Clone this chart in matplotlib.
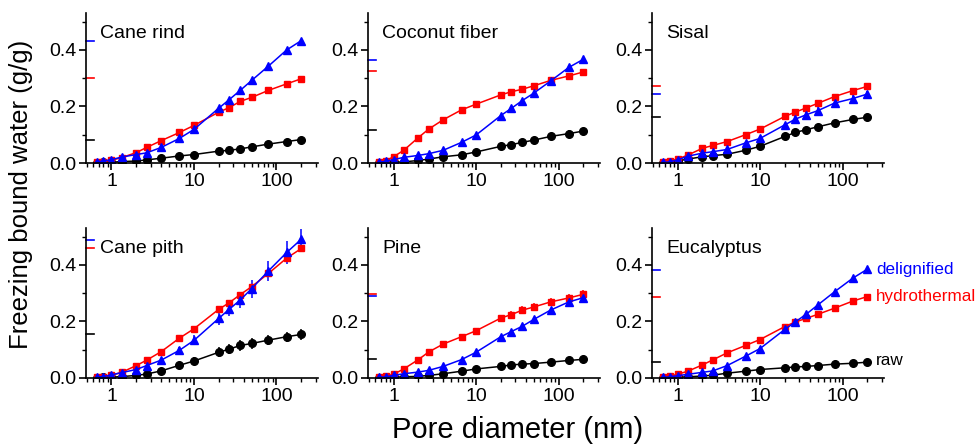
import matplotlib
matplotlib.use("Agg")
import matplotlib.pyplot as plt
from matplotlib.ticker import LogLocator, NullFormatter, MultipleLocator

plt.rcParams['font.family'] = ['Liberation Sans', 'DejaVu Sans']

# pore diameters (nm)
x = [0.66, 0.8, 1.0, 1.33, 2.0, 2.67, 4.0, 6.67, 10, 20, 26.7, 36.4, 50, 80, 133, 200]

titles = ["Cane rind", "Coconut fiber", "Sisal", "Cane pith", "Pine", "Eucalyptus"]

raw = [
    [0.001, 0.002, 0.003, 0.005, 0.007, 0.011, 0.017, 0.025, 0.030, 0.042, 0.045, 0.050, 0.057, 0.067, 0.076, 0.083],
    [0.001, 0.002, 0.003, 0.004, 0.009, 0.014, 0.022, 0.029, 0.039, 0.059, 0.065, 0.073, 0.081, 0.094, 0.104, 0.113],
    [0.001, 0.003, 0.007, 0.014, 0.022, 0.026, 0.031, 0.045, 0.059, 0.094, 0.108, 0.118, 0.128, 0.142, 0.154, 0.162],
    [0.001, 0.002, 0.003, 0.005, 0.009, 0.014, 0.025, 0.045, 0.060, 0.091, 0.102, 0.115, 0.122, 0.134, 0.146, 0.154],
    [0.001, 0.002, 0.003, 0.004, 0.006, 0.009, 0.015, 0.024, 0.032, 0.041, 0.046, 0.049, 0.051, 0.056, 0.062, 0.066],
    [0.001, 0.002, 0.003, 0.004, 0.007, 0.010, 0.017, 0.024, 0.030, 0.036, 0.039, 0.041, 0.044, 0.049, 0.052, 0.056],
]
hydrothermal = [
    [0.002, 0.005, 0.010, 0.019, 0.037, 0.055, 0.079, 0.108, 0.133, 0.180, 0.196, 0.218, 0.232, 0.257, 0.280, 0.298],
    [0.004, 0.008, 0.022, 0.045, 0.090, 0.120, 0.153, 0.188, 0.208, 0.241, 0.252, 0.261, 0.273, 0.292, 0.308, 0.322],
    [0.003, 0.006, 0.014, 0.028, 0.052, 0.062, 0.076, 0.100, 0.120, 0.165, 0.180, 0.195, 0.211, 0.235, 0.256, 0.271],
    [0.003, 0.005, 0.010, 0.020, 0.044, 0.063, 0.093, 0.141, 0.174, 0.243, 0.266, 0.295, 0.323, 0.370, 0.424, 0.458],
    [0.003, 0.006, 0.013, 0.032, 0.065, 0.092, 0.120, 0.146, 0.167, 0.212, 0.224, 0.240, 0.251, 0.269, 0.283, 0.296],
    [0.003, 0.006, 0.013, 0.024, 0.046, 0.064, 0.089, 0.115, 0.136, 0.182, 0.198, 0.211, 0.225, 0.247, 0.272, 0.288],
]
delignified = [
    [0.004, 0.007, 0.012, 0.021, 0.030, 0.036, 0.055, 0.087, 0.119, 0.194, 0.224, 0.257, 0.292, 0.343, 0.400, 0.433],
    [0.003, 0.006, 0.012, 0.020, 0.027, 0.033, 0.045, 0.073, 0.099, 0.168, 0.193, 0.221, 0.247, 0.290, 0.338, 0.367],
    [0.002, 0.004, 0.011, 0.024, 0.035, 0.040, 0.048, 0.071, 0.087, 0.135, 0.155, 0.171, 0.185, 0.212, 0.228, 0.244],
    [0.003, 0.005, 0.011, 0.019, 0.030, 0.044, 0.063, 0.098, 0.133, 0.211, 0.243, 0.276, 0.316, 0.379, 0.444, 0.491],
    [0.002, 0.004, 0.009, 0.015, 0.021, 0.027, 0.041, 0.065, 0.091, 0.146, 0.164, 0.183, 0.207, 0.240, 0.269, 0.284],
    [0.002, 0.004, 0.008, 0.013, 0.020, 0.025, 0.044, 0.077, 0.104, 0.172, 0.198, 0.226, 0.258, 0.305, 0.353, 0.385],
]

# error bars (only visible ones, the rest ~0)
err_raw = [
    [0] * 9 + [0.003, 0.003, 0.003, 0.004, 0.004, 0.004, 0.005],
    [0] * 9 + [0.005, 0.006, 0.007, 0.008, 0.010, 0.011, 0.012],
    [0] * 9 + [0.004, 0.004, 0.004, 0.005, 0.005, 0.005, 0.005],
    [0] * 6 + [0.008, 0.012, 0.014, 0.018, 0.018, 0.018, 0.018, 0.018, 0.018, 0.018],
    [0] * 16,
    [0] * 16,
]
err_hydro = [
    [0] * 13 + [0.008, 0.010, 0.010],
    [0] * 16,
    [0] * 16,
    [0] * 12 + [0.008, 0.010, 0.012, 0.010],
    [0] * 9 + [0.010, 0.012, 0.013, 0.013, 0.014, 0.014, 0.015],
    [0] * 16,
]
err_delig = [
    [0] * 16,
    [0] * 16,
    [0] * 9 + [0.008, 0.010, 0.012, 0.012, 0.012, 0.012, 0.012],
    [0] * 7 + [0.012, 0.018, 0.022, 0.025, 0.028, 0.032, 0.035, 0.040, 0.035],
    [0] * 16,
    [0] * 16,
]

# reference levels marked on the y axis
mark_raw = [0.081, 0.115, 0.162, 0.154, 0.067, 0.057]
mark_hydro = [0.299, 0.324, 0.271, 0.458, 0.296, 0.288]
mark_delig = [0.431, 0.364, 0.245, 0.489, 0.289, 0.382]

fig = plt.figure(figsize=(9.76, 4.46), dpi=100)
lefts = [0.088, 0.377, 0.668]
bottoms = [0.6345, 0.1525]
w, h = 0.238, 0.336

for i in range(6):
    ax = fig.add_axes([lefts[i % 3], bottoms[i // 3], w, h])
    ax.errorbar(x, raw[i], yerr=err_raw[i], color='black', marker='o', ms=5.5, lw=1.1, elinewidth=1.1, capsize=0)
    ax.errorbar(x, hydrothermal[i], yerr=err_hydro[i], color='red', marker='s', ms=5, lw=1.1, elinewidth=1.1, capsize=0)
    ax.errorbar(x, delignified[i], yerr=err_delig[i], color='blue', marker='^', ms=6, lw=1.1, elinewidth=1.1, capsize=0)
    for val, c in [(mark_raw[i], 'black'), (mark_hydro[i], 'red'), (mark_delig[i], 'blue')]:
        ax.plot([0.0, 0.035], [val, val], color=c, lw=1.2, transform=ax.get_yaxis_transform(), clip_on=False)
    ax.set_xscale('log')
    ax.set_xlim(0.49, 320)
    ax.set_ylim(0, 0.53)
    ax.yaxis.set_major_locator(MultipleLocator(0.2))
    ax.yaxis.set_minor_locator(MultipleLocator(0.1))
    ax.yaxis.set_major_formatter(plt.FormatStrFormatter('%.1f'))
    ax.xaxis.set_minor_locator(LogLocator(base=10, subs=range(2, 10), numticks=10))
    ax.xaxis.set_minor_formatter(NullFormatter())
    ax.set_xticks([1, 10, 100])
    ax.set_xticklabels(['1', '10', '100'])
    for s in ['top', 'right']:
        ax.spines[s].set_visible(False)
    for s in ['left', 'bottom']:
        ax.spines[s].set_linewidth(1.2)
    ax.tick_params(which='major', length=5, width=1.2, labelsize=14, direction='out', pad=2)
    ax.tick_params(which='minor', length=3, width=1.0, direction='out')
    ax.text(0.06, 0.92, titles[i], transform=ax.transAxes, fontsize=14, va='top', ha='left')

# series labels in the last panel
ax.text(255, delignified[5][-1], 'delignified', color='blue', fontsize=12.3, va='center', ha='left', clip_on=False)
ax.text(255, hydrothermal[5][-1], 'hydrothermal', color='red', fontsize=12.3, va='center', ha='left', clip_on=False)
ax.text(255, raw[5][-1] + 0.005, 'raw', color='black', fontsize=12.3, va='center', ha='left', clip_on=False)

fig.text(0.022, 0.565, 'Freezing bound water (g/g)', rotation=90, fontsize=18.5, ha='center', va='center')
fig.text(0.53, 0.035, 'Pore diameter (nm)', fontsize=21, ha='center', va='center')

fig.savefig('out.png', dpi=100)
